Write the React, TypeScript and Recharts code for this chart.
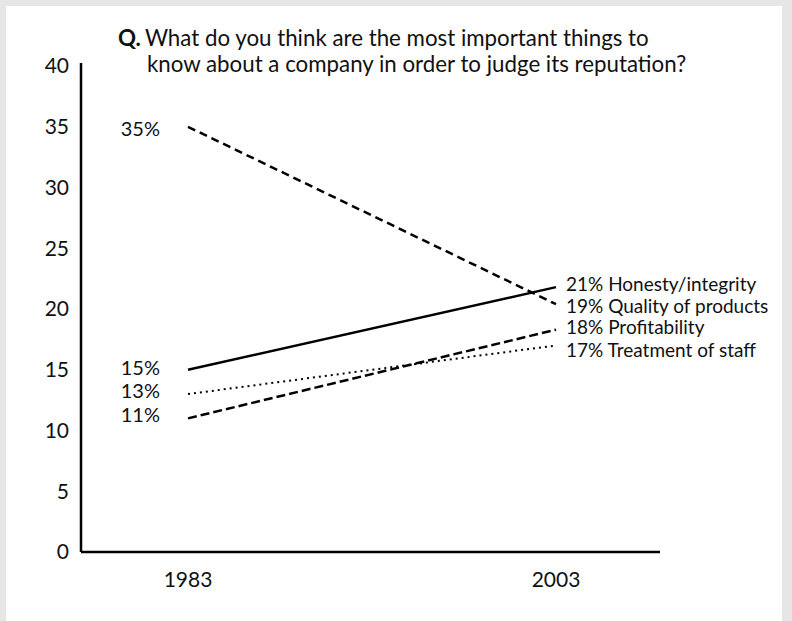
import React from 'react';
import { LineChart, Line, XAxis, YAxis, LabelList } from 'recharts';

const years = ['1983', '2003'];
const honesty = [15, 21.8];
const quality = [35, 20.4];
const profitability = [11, 18.3];
const treatment = [13, 17];
const yTicks = [0, 5, 10, 15, 20, 25, 30, 35, 40];

const startLabels = { honesty: '15%', quality: '35%', profitability: '11%', treatment: '13%' };
const endLabels = {
  honesty: '21% Honesty/integrity',
  quality: '19% Quality of products',
  profitability: '18% Profitability',
  treatment: '17% Treatment of staff',
};

const data = years.map((year, i) => ({
  year,
  honesty: honesty[i],
  quality: quality[i],
  profitability: profitability[i],
  treatment: treatment[i],
}));

const FONT = 'Lato, "Open Sans", sans-serif';

type Key = keyof typeof startLabels;

// label at the first point sits left of the line, the one at the last point sits right
const makeLabel = (key: Key, startDy: number, endDy: number) => (props: any) => {
  const { x, y, index } = props;
  if (index === 0) {
    return (
      <text x={x - 28} y={y + startDy} textAnchor="end" dominantBaseline="central" fontSize={20} fill="#111" fontFamily={FONT}>
        {startLabels[key]}
      </text>
    );
  }
  return (
    <text x={x + 10} y={y + endDy} textAnchor="start" dominantBaseline="central" fontSize={19} fill="#111" fontFamily={FONT}>
      {endLabels[key]}
    </text>
  );
};

export default function App() {
  return (
    <div style={{ position: 'fixed', left: 0, top: 0, width: 792, height: 621, background: '#e6e6e6', overflow: 'hidden' }}>
      <div style={{ position: 'absolute', left: 6, top: 6, width: 776, height: 615, background: '#fff' }} />
      <div style={{ position: 'absolute', left: 0, top: 0 }}>
        <LineChart width={792} height={621} data={data} margin={{ top: 63, right: 132, bottom: 39, left: 0 }}>
          <XAxis
            dataKey="year"
            height={30}
            padding={{ left: 107, right: 104 }}
            axisLine={{ stroke: '#000', strokeWidth: 2.5 }}
            tickLine={false}
            tickMargin={14}
            tick={{ fontSize: 21, fill: '#111', fontFamily: FONT }}
          />
          <YAxis
            width={81}
            domain={[0, 40.25]}
            ticks={yTicks}
            interval={0}
            axisLine={{ stroke: '#000', strokeWidth: 2.5 }}
            tickLine={false}
            tickMargin={6}
            tick={{ fontSize: 21, fill: '#111', fontFamily: FONT }}
          />
          <Line dataKey="honesty" stroke="#000" strokeWidth={2.5} dot={false} isAnimationActive={false}>
            <LabelList dataKey="honesty" content={makeLabel('honesty', -3, -4)} />
          </Line>
          <Line dataKey="quality" stroke="#000" strokeWidth={2.5} strokeDasharray="8 5" dot={false} isAnimationActive={false}>
            <LabelList dataKey="quality" content={makeLabel('quality', 1, 1)} />
          </Line>
          <Line dataKey="profitability" stroke="#000" strokeWidth={2.5} strokeDasharray="9 4" dot={false} isAnimationActive={false}>
            <LabelList dataKey="profitability" content={makeLabel('profitability', -4, -3)} />
          </Line>
          <Line dataKey="treatment" stroke="#000" strokeWidth={2} strokeDasharray="2 4" dot={false} isAnimationActive={false}>
            <LabelList dataKey="treatment" content={makeLabel('treatment', -4, 4)} />
          </Line>
        </LineChart>
      </div>
      <div style={{ position: 'absolute', left: 118, top: 25, fontFamily: FONT, fontSize: 22.3, lineHeight: '26px', color: '#111' }}>
        <div>
          <span style={{ fontWeight: 700, marginRight: 4 }}>Q.</span>What do you think are the most important things to
        </div>
        <div style={{ paddingLeft: 29 }}>know about a company in order to judge its reputation?</div>
      </div>
    </div>
  );
}
